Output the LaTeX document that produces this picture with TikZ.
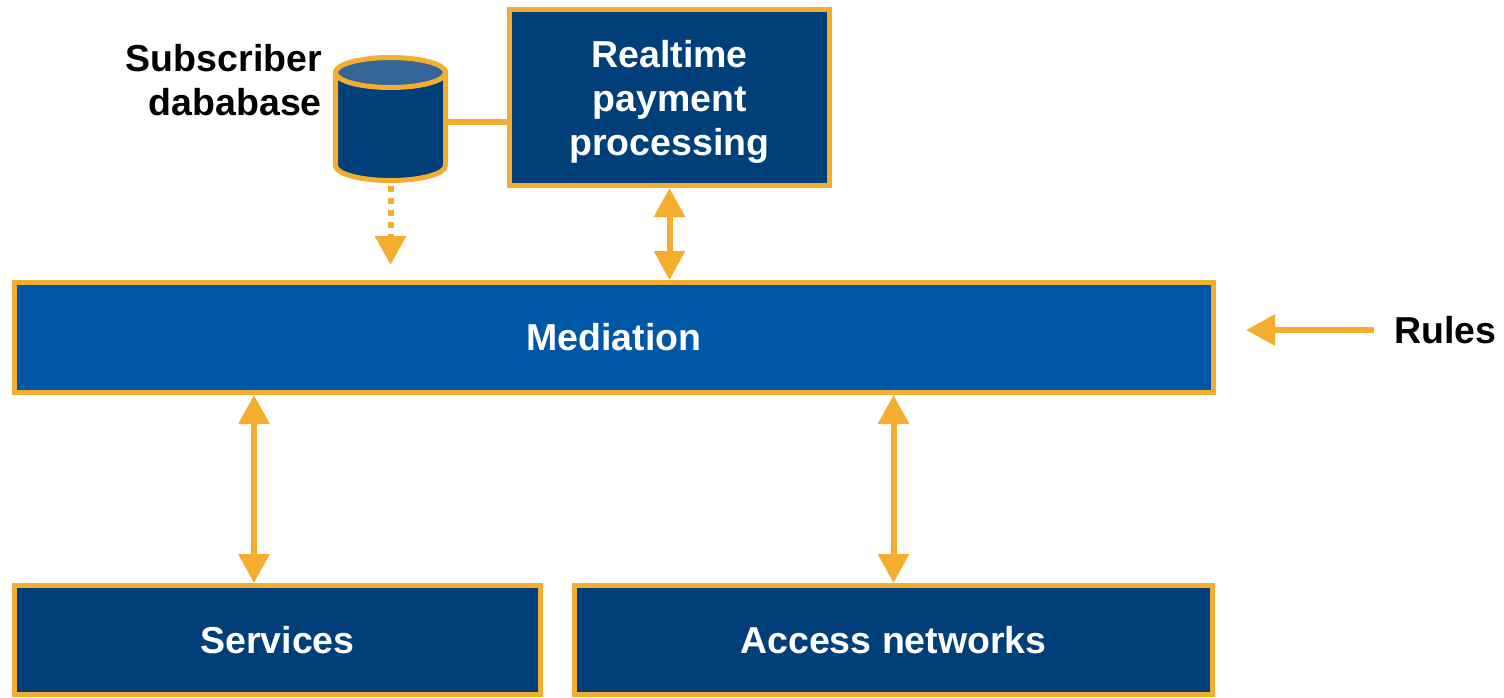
\documentclass[tikz,border=0pt]{standalone}
\usepackage{fontspec}
\setmainfont{Liberation Sans}
\usetikzlibrary{arrows.meta}
\definecolor{accent}{RGB}{245,173,48}
\definecolor{navy}{RGB}{0,63,122}
\definecolor{midblue}{RGB}{0,87,168}
\definecolor{lidblue}{RGB}{51,102,150}
\tikzset{
  x=1pt, y=-1pt,
  bigfont/.style={font=\fontsize{37.5}{44}\selectfont\bfseries},
  block/.style={draw=accent, line width=5pt, fill=navy, text=white,
    bigfont, align=center, inner sep=0pt},
  label/.style={text=black, bigfont, inner sep=0pt},
  link/.style={draw=accent, line width=6pt},
  tip/.style={-{Triangle[width=30pt,length=29pt]}},
  twotip/.style={{Triangle[width=30pt,length=29pt]}-{Triangle[width=30pt,length=29pt]}},
}
\begin{document}
\begin{tikzpicture}
\useasboundingbox (0,0) rectangle (1504,697);

% main blocks
\node[block, minimum width=320pt, minimum height=176pt] (rt) at (669.5,97.5) {};
\node[text=white, bigfont, align=center, inner sep=0pt] (rtt) at (669.5,101.5)
  {Realtime\\payment\\processing};
\node[block, fill=midblue, minimum width=1199pt, minimum height=110pt] (med) at (614,337.5)
  {Mediation};
\node[block, minimum width=526pt, minimum height=109pt] (svc) at (277.5,640)
  {Services};
\node[block, minimum width=638pt, minimum height=109pt] (acc) at (893.5,640)
  {Access networks};

% subscriber database cylinder
\node[inner sep=0pt, minimum width=110pt, minimum height=126pt] (db) at (390.5,120) {};
\begin{scope}[draw=accent, line width=5pt]
  \filldraw[fill=navy] (335.5,72.5) -- (335.5,165.5)
    arc[start angle=180, end angle=0, x radius=55, y radius=15]
    -- (445.5,72.5) -- cycle;
  \filldraw[fill=lidblue] (390.5,72.5) ellipse[x radius=55, y radius=15];
\end{scope}
\node[label, align=right, anchor=east] (dbl) at (322,80) {Subscriber\\dababase};

% connectors
\draw[link] (db.east |- 0,122) -- (rt.west |- 0,122);
\draw[link, tip, dash pattern=on 6pt off 6pt]
  (db.south |- 0,186) -- (db.south |- 0,265);
\draw[link, twotip] (rt.south) -- (rt.south |- med.north);
\draw[link, twotip] (254,395) -- (254,583);
\draw[link, twotip] (acc.north |- med.south) -- (acc.north);

\node[label, anchor=west] (rules) at (1394,330) {Rules};
\draw[link, tip] (rules.west) ++(-20,0) coordinate (rs) -- (1246,330);
\end{tikzpicture}
\end{document}
